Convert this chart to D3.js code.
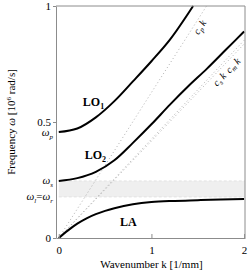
<!DOCTYPE html>
<html><head><meta charset="utf-8">
<script src="https://cdn.jsdelivr.net/npm/d3@7"></script>
<style>body{margin:0;background:#fff} svg{display:block} text{font-family:"Liberation Serif","Times New Roman",Times,"DejaVu Serif","Noto Serif",serif;fill:#000}</style>
</head><body><svg id="c" width="249" height="275"></svg>
<script>
// data
const kLO1=[0,0.2,0.4,0.6,0.8,1.0,1.2,1.45];
const wLO1=[0.457,0.472,0.52,0.59,0.675,0.762,0.855,1.0];
const kLO2=[0,0.2,0.4,0.6,0.8,1.0,1.2,1.4,1.6,1.8,2.0];
const wLO2=[0.246,0.258,0.285,0.335,0.41,0.49,0.575,0.655,0.73,0.81,0.89];
const kLA=[0,0.1,0.2,0.3,0.4,0.5,0.6,0.8,1.0,1.25,1.5,1.75,2.0];
const wLA=[0,0.033,0.062,0.085,0.103,0.117,0.128,0.145,0.155,0.16,0.163,0.166,0.168];
const cP=0.627, cS=0.418, cM=0.426;
const omegaP=0.457, omegaS=0.246, omegaL=0.177;
const xTicks=[0,1,2], yTicks=[0,0.5,1];

const svg=d3.select("#c");
const x=d3.scaleLinear().domain([-0.03,2.01]).range([56,245]);
const y=d3.scaleLinear().domain([0,1]).range([238,6]);

// band
svg.append("rect").attr("x",x(0)).attr("y",y(omegaS)).attr("width",x(2.01)-x(0)).attr("height",y(omegaL)-y(omegaS)).attr("fill","#efefef");
[omegaS,omegaL].forEach(w=>svg.append("line").attr("x1",x(0)).attr("x2",x(2.01)).attr("y1",y(w)).attr("y2",y(w)).attr("stroke","#e0e0e0").attr("stroke-dasharray","3,2").attr("stroke-width",0.8));

// dotted asymptotes
const dl=(c,kmax)=>svg.append("line").attr("x1",x(0)).attr("y1",y(0)).attr("x2",x(kmax)).attr("y2",y(c*kmax)).attr("stroke","#b0b0b0").attr("stroke-width",1).attr("stroke-dasharray","1,2.6");
dl(cP,1/cP); dl(cS,2); dl(cM,2);

// curves
const line=d3.line().x(d=>x(d[0])).y(d=>y(d[1])).curve(d3.curveMonotoneX);
[[kLO1,wLO1],[kLO2,wLO2],[kLA,wLA]].forEach(([ks,ws])=>{
  svg.append("path").attr("d",line(ks.map((k,i)=>[k,ws[i]]))).attr("fill","none").attr("stroke","#000").attr("stroke-width",2);
});

// frame
const g="#8c8c8c";
svg.append("line").attr("x1",x(-0.03)).attr("x2",x(2.01)).attr("y1",y(1)).attr("y2",y(1)).attr("stroke",g);
svg.append("line").attr("x1",x(2.01)).attr("x2",x(2.01)).attr("y1",y(1)).attr("y2",y(0)).attr("stroke",g);

const xa=svg.append("g").attr("transform",`translate(0,${y(0)})`).call(d3.axisBottom(x).tickValues(xTicks).tickSizeInner(-4).tickSizeOuter(0).tickPadding(8).tickFormat(d3.format("d")));
const ya=svg.append("g").attr("transform",`translate(${x(-0.03)},0)`).call(d3.axisLeft(y).tickValues(yTicks).tickSizeInner(3).tickSizeOuter(0).tickPadding(2).tickFormat(d=>d===0.5?"0.5":d3.format("d")(d)));
[xa,ya].forEach(a=>{a.attr("font-family",null);a.selectAll("path,line").attr("stroke",g);a.selectAll("text").attr("font-size",11).attr("fill","#000");});

// omega labels
function omegaLabel(ypos, parts){
  const t=svg.append("text").attr("x",x(-0.03)-3).attr("y",ypos).attr("text-anchor","end").attr("font-size",11).attr("dy","0.32em");
  parts.forEach(p=>{const s=t.append("tspan").text(p.t);
    if(p.sub){s.attr("font-size",7).attr("dy",2.5);} else if(p.back){s.attr("dy",-2.5);} 
    if(p.it) s.attr("font-style","italic");});
}
omegaLabel(y(omegaP)+1,[{t:"ω",it:1},{t:"p",sub:1,it:1}]);
omegaLabel(y(omegaS),[{t:"ω",it:1},{t:"s",sub:1,it:1}]);
omegaLabel(y(omegaL),[{t:"ω",it:1},{t:"l",sub:1,it:1},{t:"=",back:1},{t:"ω",it:1},{t:"r",sub:1,it:1}]);

// branch labels
function branch(k,w,name,sub){
  const t=svg.append("text").attr("x",x(k)).attr("y",y(w)).attr("font-size",12).attr("font-weight","bold");
  t.append("tspan").text(name);
  if(sub) t.append("tspan").text(sub).attr("font-size",8).attr("dy",2.5);
}
branch(0.26,0.568,"LO","1");
branch(0.28,0.34,"LO","2");
branch(0.66,0.05,"LA");

// asymptote labels
function rotLabel(k,w,angPx,parts,off){
  const px=x(k), py=y(w);
  const t=svg.append("text").attr("transform",`translate(${px},${py}) rotate(${angPx})`).attr("font-size",10).attr("text-anchor","middle").attr("dy",off);
  parts.forEach(p=>{const s=t.append("tspan").text(p.t).attr("font-style","italic");
    if(p.sub) s.attr("font-size",7).attr("dy",2); if(p.back) s.attr("dy",-2); if(p.dx) s.attr("dx",p.dx);});
}
const angP=-Math.atan2(y(0)-y(cP),x(1)-x(0))*180/Math.PI;
const angS=-Math.atan2(y(0)-y(cS),x(1)-x(0))*180/Math.PI;
rotLabel(1.47,cP*1.47,angP,[{t:"c"},{t:"p",sub:1},{t:" k",back:1}],9);
rotLabel(1.76,cS*1.76,angS,[{t:"c"},{t:"s",sub:1},{t:" k",back:1},{t:"c",dx:4},{t:"m",sub:1},{t:" k",back:1}],10);

// axis titles
const yt=svg.append("text").attr("transform",`translate(15,${(y(0)+y(1))/2}) rotate(-90)`).attr("text-anchor","middle").attr("font-size",11);
yt.append("tspan").text("Frequency ");
yt.append("tspan").text("ω").attr("font-style","italic");
yt.append("tspan").text(" [10");
yt.append("tspan").text("6").attr("font-size",7).attr("dy",-4);
yt.append("tspan").text(" rad/s]").attr("dy",4);
svg.append("text").attr("x",(x(0)+x(2))/2).attr("y",268).attr("text-anchor","middle").attr("font-size",11).text("Wavenumber k [1/mm]");
</script></body></html>
